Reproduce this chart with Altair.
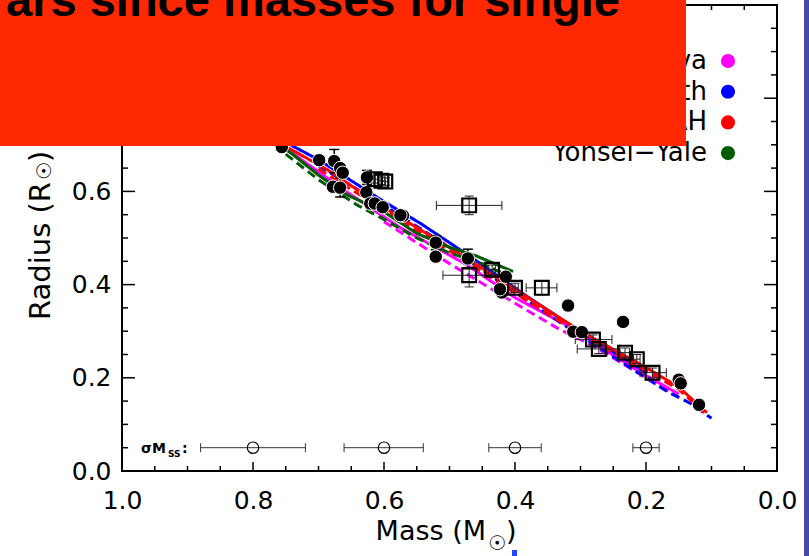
import altair as alt
import pandas as pd

# ---------------- data ----------------
# filled circles (eclipsing binaries)
circ_m = [0.756, 0.699, 0.676, 0.667, 0.663, 0.678, 0.667, 0.626, 0.627, 0.621, 0.614, 0.602,
          0.571, 0.575, 0.521, 0.521, 0.472, 0.414, 0.420, 0.423, 0.319, 0.235, 0.311, 0.298,
          0.150, 0.147, 0.119]
circ_r = [0.695, 0.667, 0.665, 0.650, 0.640, 0.610, 0.608, 0.630, 0.598, 0.574, 0.574, 0.566,
          0.548, 0.549, 0.490, 0.460, 0.456, 0.417, 0.383, 0.390, 0.355, 0.320, 0.299, 0.298,
          0.196, 0.188, 0.142]
circ_rerr = [0, 0, 0.025, 0, 0, 0, 0.02, 0.015, 0, 0, 0, 0,
             0.005, 0, 0.015, 0, 0.02, 0, 0, 0, 0, 0, 0, 0,
             0, 0, 0]

# open squares (single stars)
sq_m = [0.614, 0.604, 0.598, 0.470, 0.470, 0.435, 0.400, 0.359, 0.281, 0.272, 0.232, 0.214, 0.190]
sq_r = [0.626, 0.623, 0.621, 0.570, 0.420, 0.432, 0.393, 0.393, 0.282, 0.262, 0.254, 0.240, 0.211]
sq_mlo = [0.619, 0.609, 0.603, 0.520, 0.510, 0.440, 0.405, 0.383, 0.308, 0.305, 0.240, 0.219, 0.209]
sq_mhi = [0.609, 0.599, 0.593, 0.420, 0.430, 0.430, 0.395, 0.336, 0.252, 0.240, 0.225, 0.209, 0.169]
sq_rerr = [0.008, 0.008, 0.008, 0.020, 0.025, 0.010, 0.010, 0.015, 0.010, 0.010, 0.010, 0.010, 0.010]

# sigma M_SS markers
sig_m = [0.8, 0.6, 0.4, 0.2]
sig_lo = [0.88, 0.661, 0.44, 0.22]
sig_hi = [0.72, 0.54, 0.36, 0.18]
sig_r = [0.05, 0.05, 0.05, 0.05]

# model tracks
models = ["Padova", "Dartmouth", "BCAH", "Yonsei\u2212Yale"]
model_colors = ["#FF00FF", "#0000FF", "#FF0000", "#005A00"]

padova_solid_m = [0.85, 0.744, 0.656, 0.575, 0.473, 0.40, 0.32, 0.244, 0.20, 0.15]
padova_solid_r = [0.79, 0.686, 0.598, 0.522, 0.442, 0.372, 0.312, 0.243, 0.205, 0.165]
padova_dash_m = [0.60, 0.50, 0.40, 0.331, 0.285, 0.174, 0.15]
padova_dash_r = [0.535, 0.445, 0.36, 0.303, 0.272, 0.178, 0.158]

dart_solid_m = [0.85, 0.739, 0.70, 0.60, 0.545, 0.50, 0.458, 0.382, 0.316, 0.25, 0.20]
dart_solid_r = [0.80, 0.697, 0.668, 0.578, 0.532, 0.49, 0.45, 0.375, 0.314, 0.255, 0.212]
dart_dash_m = [0.70, 0.60, 0.50, 0.40, 0.30, 0.20, 0.167, 0.132, 0.10]
dart_dash_r = [0.655, 0.57, 0.48, 0.383, 0.29, 0.20, 0.17, 0.145, 0.113]

bcah_solid_m = [0.85, 0.78, 0.687, 0.60, 0.545, 0.50, 0.40, 0.30, 0.20, 0.15, 0.107]
bcah_solid_r = [0.79, 0.72, 0.647, 0.565, 0.518, 0.48, 0.39, 0.30, 0.222, 0.18, 0.125]
bcah_dash_m = [0.70, 0.60, 0.50, 0.40, 0.30, 0.20, 0.15, 0.107]
bcah_dash_r = [0.648, 0.56, 0.472, 0.382, 0.293, 0.215, 0.175, 0.12]

yy_solid_m = [0.85, 0.80, 0.74, 0.70, 0.66, 0.60, 0.55, 0.50, 0.46, 0.403]
yy_solid_r = [0.79, 0.74, 0.68, 0.635, 0.595, 0.556, 0.51, 0.48, 0.462, 0.428]
yy_dash_m = [0.75, 0.70, 0.64, 0.60, 0.55, 0.50, 0.45, 0.41]
yy_dash_r = [0.68, 0.625, 0.57, 0.54, 0.50, 0.468, 0.445, 0.418]

# axis ticks and labels
x_major = [0.0, 0.2, 0.4, 0.6, 0.8, 1.0]
x_minor = [0.05, 0.1, 0.15, 0.25, 0.3, 0.35, 0.45, 0.5, 0.55, 0.65, 0.7, 0.75, 0.85, 0.9, 0.95]
y_major = [0.0, 0.2, 0.4, 0.6, 0.8, 1.0]
y_minor = [0.05, 0.1, 0.15, 0.25, 0.3, 0.35, 0.45, 0.5, 0.55, 0.65, 0.7, 0.75, 0.85, 0.9, 0.95]
y_labels = [0.0, 0.2, 0.4, 0.6]   # 0.8 and 1.0 are hidden behind the red box

title_text = "ars since masses for single"
x_title_main, x_title_sun, x_title_end = "Mass (M", "\u2609", ")"
y_title_main, y_title_sun, y_title_end = "Radius (R", "\u2609", ")"

# ---------------- layout ----------------
W, H = 655, 466
FONT = "DejaVu Sans"
XS = alt.Scale(domain=[0, 1], reverse=True, nice=False, zero=False)
YS = alt.Scale(domain=[0, 1], nice=False, zero=False)
XA = alt.Axis(
    values=x_major, format=".1f", ticks=False, domain=False, grid=False,
    labelFont=FONT, labelFontSize=25, labelColor="black", labelPadding=17,
    labelFlush=False, labelOverlap=False, title=None)
YA = alt.Axis(
    values=y_labels, format=".1f", ticks=False, domain=False, grid=False,
    labelFont=FONT, labelFontSize=25, labelColor="black", labelPadding=11,
    labelFlush=False, labelOverlap=False, title=None)

# ---------------- tables ----------------
circ = pd.DataFrame({"m": circ_m, "r": circ_r, "e": circ_rerr})
circ["lo"] = circ["r"] - circ["e"]
circ["hi"] = circ["r"] + circ["e"]
circ_err = circ[circ["e"] > 0]

sq = pd.DataFrame({"m": sq_m, "r": sq_r, "mlo": sq_mlo, "mhi": sq_mhi, "e": sq_rerr})
sq["lo"] = sq["r"] - sq["e"]
sq["hi"] = sq["r"] + sq["e"]

sig = pd.DataFrame({"m": sig_m, "r": sig_r, "lo": sig_lo, "hi": sig_hi})

rows = []
tracks = [
    ("Padova", "solid", padova_solid_m, padova_solid_r),
    ("Padova", "dashed", padova_dash_m, padova_dash_r),
    ("Dartmouth", "solid", dart_solid_m, dart_solid_r),
    ("Dartmouth", "dashed", dart_dash_m, dart_dash_r),
    ("BCAH", "solid", bcah_solid_m, bcah_solid_r),
    ("BCAH", "dashed", bcah_dash_m, bcah_dash_r),
    ("Yonsei\u2212Yale", "solid", yy_solid_m, yy_solid_r),
    ("Yonsei\u2212Yale", "dashed", yy_dash_m, yy_dash_r),
]
for name, style, ms, rs in tracks:
    for i, (mm, rr) in enumerate(zip(ms, rs)):
        rows.append({"model": name, "style": style, "key": name + style, "i": i, "m": mm, "r": rr})
lines_df = pd.DataFrame(rows)

legend_df = pd.DataFrame({"model": models, "idx": list(range(len(models)))})

one = pd.DataFrame({"a": [0]})

# ---------------- layers ----------------
def xq(field):
    return alt.X(field, type="quantitative", scale=XS, axis=XA)

def yq(field):
    return alt.Y(field, type="quantitative", scale=YS, axis=YA)

tick_layers = []
for vals, length in ((x_major, 9), (x_minor, 5)):
    d = pd.DataFrame({"v": vals})
    tick_layers.append(alt.Chart(d).mark_rule(color="black", strokeWidth=1.5).encode(
        x=xq("v"), y=alt.value(H), y2=alt.value(H - length)))
    tick_layers.append(alt.Chart(d).mark_rule(color="black", strokeWidth=1.5).encode(
        x=xq("v"), y=alt.value(0), y2=alt.value(length)))
for vals, length in ((y_major, 13), (y_minor, 6)):
    d = pd.DataFrame({"v": vals})
    tick_layers.append(alt.Chart(d).mark_rule(color="black", strokeWidth=1.5).encode(
        y=yq("v"), x=alt.value(0), x2=alt.value(length)))
    tick_layers.append(alt.Chart(d).mark_rule(color="black", strokeWidth=1.5).encode(
        y=yq("v"), x=alt.value(W), x2=alt.value(W - length)))

lines = alt.Chart(lines_df).mark_line(strokeWidth=3).encode(
    x=xq("m"), y=yq("r"),
    color=alt.Color("model:N", scale=alt.Scale(domain=models, range=model_colors), legend=None),
    strokeDash=alt.StrokeDash("style:N", scale=alt.Scale(domain=["solid", "dashed"],
                                                        range=[[1, 0], [9, 5]]), legend=None),
    detail="key:N", order="i:Q",
)

circ_bars = alt.Chart(circ_err).mark_rule(color="black", strokeWidth=1.5).encode(
    x=xq("m"), y=yq("lo"), y2="hi:Q")
circ_caps_lo = alt.Chart(circ_err).mark_tick(orient="horizontal", size=10, thickness=1.5,
                                             color="black", opacity=1).encode(x=xq("m"), y=yq("lo"))
circ_caps_hi = alt.Chart(circ_err).mark_tick(orient="horizontal", size=10, thickness=1.5,
                                             color="black", opacity=1).encode(x=xq("m"), y=yq("hi"))

sq_hbar = alt.Chart(sq).mark_rule(color="#222222", strokeWidth=1).encode(
    x=xq("mlo"), x2="mhi:Q", y=yq("r"))
sq_hcap1 = alt.Chart(sq).mark_tick(orient="vertical", size=9, thickness=1, color="#222222",
                                   opacity=1).encode(x=xq("mlo"), y=yq("r"))
sq_hcap2 = alt.Chart(sq).mark_tick(orient="vertical", size=9, thickness=1, color="#222222",
                                   opacity=1).encode(x=xq("mhi"), y=yq("r"))
sq_vbar = alt.Chart(sq).mark_rule(color="#222222", strokeWidth=1).encode(
    x=xq("m"), y=yq("lo"), y2="hi:Q")
sq_vcap1 = alt.Chart(sq).mark_tick(orient="horizontal", size=9, thickness=1, color="#222222",
                                   opacity=1).encode(x=xq("m"), y=yq("lo"))
sq_vcap2 = alt.Chart(sq).mark_tick(orient="horizontal", size=9, thickness=1, color="#222222",
                                   opacity=1).encode(x=xq("m"), y=yq("hi"))

circles = alt.Chart(circ).mark_circle(size=180, color="black", opacity=1,
                                      stroke="white", strokeWidth=1).encode(x=xq("m"), y=yq("r"))
squares = alt.Chart(sq).mark_point(shape="square", filled=False, size=190, color="black",
                                   strokeWidth=2.2, opacity=1).encode(x=xq("m"), y=yq("r"))

sig_bar = alt.Chart(sig).mark_rule(color="#333333", strokeWidth=1).encode(
    x=xq("lo"), x2="hi:Q", y=yq("r"))
sig_cap1 = alt.Chart(sig).mark_tick(orient="vertical", size=9, thickness=1, color="#333333",
                                    opacity=1).encode(x=xq("lo"), y=yq("r"))
sig_cap2 = alt.Chart(sig).mark_tick(orient="vertical", size=9, thickness=1, color="#333333",
                                    opacity=1).encode(x=xq("hi"), y=yq("r"))
sig_pts = alt.Chart(sig).mark_point(shape="circle", filled=False, size=130, color="black",
                                    strokeWidth=1.2, opacity=1).encode(x=xq("m"), y=yq("r"))

sig_lab_df = pd.DataFrame({"m": [0.971], "r": [0.05]})
sig_lab1 = alt.Chart(sig_lab_df).mark_text(text="\u03c3M", align="left", baseline="alphabetic",
                                           font=FONT, fontSize=14, fontWeight="bold", color="black",
                                           dy=5).encode(x=xq("m"), y=yq("r"))
sig_lab2 = alt.Chart(sig_lab_df).mark_text(text="SS", align="left", baseline="alphabetic",
                                           font=FONT, fontSize=9, fontWeight="bold", color="black",
                                           dx=27, dy=9).encode(x=xq("m"), y=yq("r"))
sig_lab3 = alt.Chart(sig_lab_df).mark_text(text=":", align="left", baseline="alphabetic",
                                           font=FONT, fontSize=14, fontWeight="bold", color="black",
                                           dx=41, dy=5).encode(x=xq("m"), y=yq("r"))

# axis titles with subscript sun symbol
TF = 27
xt1 = alt.Chart(one).mark_text(text=x_title_main, align="right", baseline="alphabetic", font=FONT,
                               fontSize=TF, color="black").encode(x=alt.value(364), y=alt.value(535))
xt2 = alt.Chart(one).mark_text(text=x_title_sun, align="center", baseline="middle", font=FONT,
                               fontSize=20, color="black").encode(x=alt.value(375), y=alt.value(539))
xt3 = alt.Chart(one).mark_text(text=x_title_end, align="left", baseline="alphabetic", font=FONT,
                               fontSize=TF, color="black").encode(x=alt.value(384), y=alt.value(535))
yt1 = alt.Chart(one).mark_text(text=y_title_main, align="right", baseline="alphabetic", font=FONT,
                               fontSize=29, angle=270, color="black").encode(
    x=alt.value(-72), y=alt.value(177))
yt2 = alt.Chart(one).mark_text(text=y_title_sun, align="center", baseline="middle", font=FONT,
                               fontSize=20, angle=270, color="black").encode(
    x=alt.value(-77), y=alt.value(166))
yt3 = alt.Chart(one).mark_text(text=y_title_end, align="left", baseline="alphabetic", font=FONT,
                               fontSize=29, angle=270, color="black").encode(
    x=alt.value(-72), y=alt.value(157))

# legend (positions from row index)
leg_base = alt.Chart(legend_df).transform_calculate(py="56 + 30.7 * datum.idx")
leg_text = leg_base.mark_text(align="right", baseline="middle", font=FONT, fontSize=26,
                              color="black").encode(
    x=alt.value(585), y=alt.Y("py:Q", scale=None, axis=None), text="model:N")
leg_dots = leg_base.mark_circle(size=200, opacity=1).encode(
    x=alt.value(606), y=alt.Y("py:Q", scale=None, axis=None),
    color=alt.Color("model:N", scale=alt.Scale(domain=models, range=model_colors), legend=None))

# slide overlays
red_box = alt.Chart(one).mark_rect(color="#FF2800", opacity=1).encode(
    x=alt.value(-122), x2=alt.value(564), y=alt.value(-5), y2=alt.value(141))
blue_band = alt.Chart(one).mark_rect(color="#4348A9", opacity=1).encode(
    x=alt.value(682), x2=alt.value(688), y=alt.value(-5), y2=alt.value(552))
blue_dot = alt.Chart(one).mark_rect(color="#1E46FF", opacity=1).encode(
    x=alt.value(390), x2=alt.value(395), y=alt.value(545), y2=alt.value(552))
title = alt.Chart(one).mark_text(text=title_text, align="right", baseline="alphabetic",
                                 font="Liberation Sans", fontSize=47, fontWeight="bold",
                                 color="black").encode(x=alt.value(498), y=alt.value(11))

chart = alt.layer(
    *tick_layers, lines,
    circ_bars, circ_caps_lo, circ_caps_hi,
    sq_hbar, sq_hcap1, sq_hcap2, sq_vbar, sq_vcap1, sq_vcap2,
    circles, squares,
    sig_bar, sig_cap1, sig_cap2, sig_pts, sig_lab1, sig_lab2, sig_lab3,
    xt1, xt2, xt3, yt1, yt2, yt3,
    leg_text, leg_dots,
    red_box, blue_band, blue_dot, title,
).properties(
    width=W, height=H,
    padding={"left": 122, "top": 5, "right": 32, "bottom": 85},
    autosize=alt.AutoSizeParams(type="none"),
    background="white",
).configure_view(stroke="black", strokeWidth=2)

chart.save("out.html", embed_options={"renderer": "svg", "actions": False})
